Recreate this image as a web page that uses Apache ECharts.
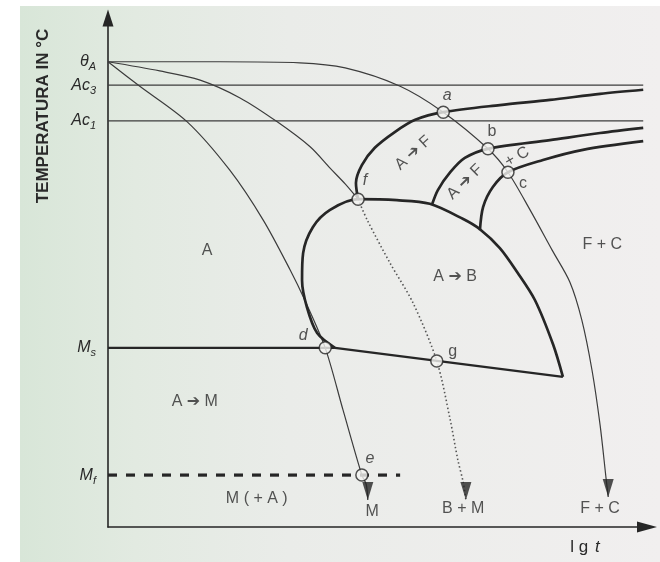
<!DOCTYPE html>
<html>
<head>
<meta charset="utf-8">
<script src="https://cdn.jsdelivr.net/npm/echarts@6/dist/echarts.min.js"></script>
<style>
  html, body { margin: 0; padding: 0; background: #ffffff; }
  #paper { position: absolute; left: 20px; top: 6px; width: 640px; height: 556px;
           background: linear-gradient(to right, #d8e6d8 0%, #e2eae1 18%, #eaece9 42%, #f1efef 100%); }
  #chart { position: absolute; left: 0; top: 0; width: 660px; height: 562px; }
</style>
</head>
<body>
<div id="paper"></div>
<div id="chart"></div>
<script>
// Continuous-cooling transformation diagram (schematic).
// x: lg t (arbitrary units 0..100), y: temperature (arbitrary units 0..100)

// Characteristic temperatures shown on the temperature axis
const levelSymbols = [['θ', 'A'], ['Ac', '3'], ['Ac', '1'], ['M', 's'], ['M', 'f']];
const levelValues  = [91.4, 86.8, 79.8, 35.2, 10.2];

// Horizontal reference lines: Ac3, Ac1 (to the right end), Ms, Mf
const acLineEnd = 99.3;
const msLineEnd = 42.1;
const mfLineEnd = 54.2;

// Cooling curves starting at θA
const coolSlow = [[0, 91.4], [20.8, 91.4], [35.6, 91.2], [44.0, 90.2], [54.2, 86.6], [62.2, 81.5],
                  [70.5, 74.3], [74.2, 69.7], [78.3, 62.3], [82.4, 54.4], [85.7, 48.1], [87.9, 40.7],
                  [89.8, 30.8], [91.3, 20.0], [92.4, 9.6], [92.8, 5.9]];
const coolMedium = [[0, 91.4], [9.6, 89.6], [17.1, 87.8], [24.5, 84.3], [31.4, 79.6], [37.5, 74.7],
                    [41.2, 70.5], [44.0, 67.4], [46.4, 64.4]];
const coolMediumBelow = [[46.4, 64.4], [48.1, 60.3], [52.3, 51.9], [56.6, 44.0], [61.0, 32.6],
                         [63.5, 21.0], [64.9, 13.2], [65.9, 8.8], [66.4, 5.3]];
const coolFast = [[0, 91.4], [5.9, 86.6], [14.7, 79.6], [22.6, 70.1], [28.8, 60.3], [33.8, 50.5],
                  [36.5, 44.6], [40.3, 35.2], [43.6, 23.0], [47.1, 10.2], [47.9, 8.4], [48.2, 5.3]];

// Transformation lines
const ferriteStart = [[99.3, 85.9], [91.3, 85.1], [82.0, 83.9], [72.7, 82.9], [62.2, 81.5], [57.0, 80.0],
                      [53.2, 77.6], [49.5, 74.5], [47.1, 71.1], [46.0, 67.6], [46.4, 64.4]];
const carbideStart = [[99.3, 78.4], [91.3, 77.4], [82.0, 76.0], [70.5, 74.3], [66.2, 72.5], [63.5, 69.7],
                      [61.2, 66.2], [60.1, 63.3]];
const transformEnd = [[99.3, 75.8], [88.1, 74.1], [80.7, 72.1], [74.2, 69.7], [71.4, 66.8], [69.6, 62.9],
                      [69.0, 58.3]];
const bainiteNose = [[42.1, 35.2], [38.8, 38.1], [36.9, 43.2], [36.0, 48.5], [36.2, 53.8], [38.0, 58.9],
                     [41.2, 62.3], [46.4, 64.4], [53.6, 64.2], [59.7, 63.5], [65.9, 60.5], [69.0, 58.5],
                     [72.7, 54.8], [75.9, 50.1], [79.2, 44.6], [82.6, 35.8], [84.4, 29.5]];
const bainiteEnd = [[42.1, 35.2], [84.4, 29.5]];

// Named intersection points
const pointNames  = ['a', 'b', 'c', 'f', 'd', 'g', 'e'];
const pointValues = [[62.2, 81.5], [70.5, 74.3], [74.2, 69.7], [46.4, 64.4], [40.3, 35.2], [61.0, 32.6], [47.1, 10.2]];

// Region / product annotations
const regionTexts  = ['A', 'A ➔ F', 'A ➔ F', '+ C', 'F + C', 'A ➔ B', 'A ➔ M', 'M ( + A )', 'M', 'B + M', 'F + C'];
const regionAnchor = [[18.4, 54.4], [56.6, 73.5], [66.2, 67.8], [75.9, 72.7], [91.7, 55.4], [64.4, 49.1],
                      [16.1, 24.6], [27.6, 5.5], [49.0, 3.1], [65.9, 3.7], [91.3, 3.7]];

// ---- styling ----
const FONT = '"Liberation Sans", Arial, "DejaVu Sans", sans-serif';
const INK = '#262626';
const THIN = '#3c3c3c';
const TEXT = '#2a2a2a';
const regionRotate = [0, 42, 44, 30, 0, 0, 0, 0, 0, 0, 0];
const pointItalic = { a: true, b: false, c: false, f: true, d: true, g: false, e: true };
const pointLabelOffset = { a: [4, -17], b: [4, -17], c: [15, 11], f: [7, -19], d: [-22, -12], g: [16, -9], e: [8, -17] };

function lineSeries(data, width, color, extra) {
  return Object.assign({
    type: 'line', data: data, symbol: 'none', silent: true, animation: false,
    lineStyle: { width: width, color: color }, z: 2
  }, extra || {});
}

const ms = levelValues[3], mf = levelValues[4];
const ac3 = levelValues[1], ac1 = levelValues[2];

const chart = echarts.init(document.getElementById('chart'), null, { renderer: 'canvas' });

const option = {
  backgroundColor: 'transparent',
  animation: false,
  grid: { left: 108, top: 18, width: 539, height: 509, containLabel: false },
  xAxis: {
    type: 'value', min: 0, max: 100,
    axisLine: { show: true, onZero: false, symbol: ['none', 'triangle'], symbolSize: [11, 20],
                lineStyle: { color: INK, width: 1.6 } },
    axisTick: { show: false }, axisLabel: { show: false }, splitLine: { show: false }
  },
  yAxis: {
    type: 'value', min: 0, max: 100,
    axisLine: { show: true, onZero: false, symbol: ['none', 'triangle'], symbolSize: [11, 17],
                lineStyle: { color: INK, width: 1.6 } },
    axisTick: { show: false }, splitLine: { show: false },
    axisLabel: {
      show: true, customValues: levelValues, margin: 12,
      formatter: function (v) {
        const i = levelValues.findIndex(function (x) { return Math.abs(x - v) < 1e-6; });
        if (i < 0) return '';
        return '{m|' + levelSymbols[i][0] + '}{s|' + levelSymbols[i][1] + '}';
      },
      rich: {
        m: { fontFamily: FONT, fontSize: 16, fontStyle: 'italic', color: TEXT, lineHeight: 22, verticalAlign: 'middle' },
        s: { fontFamily: FONT, fontSize: 11, fontStyle: 'italic', color: TEXT, lineHeight: 11, verticalAlign: 'bottom' }
      }
    }
  },
  graphic: [
    { type: 'text', x: 43, y: 116, rotation: Math.PI / 2,
      style: { text: 'TEMPERATURA IN °C', font: 'bold 17px "Liberation Sans", Arial, sans-serif',
               fill: TEXT, align: 'center', verticalAlign: 'middle' } },
    { type: 'text', x: 585, y: 547,
      style: { text: '{n|l g}  {i|t}', align: 'center', verticalAlign: 'middle',
               rich: { n: { fontFamily: FONT, fontSize: 17, fill: TEXT },
                       i: { fontFamily: FONT, fontSize: 17, fontStyle: 'italic', fill: TEXT } } } }
  ],
  series: [
    // reference temperatures
    lineSeries([[0, ac3], [acLineEnd, ac3]], 1.2, THIN),
    lineSeries([[0, ac1], [acLineEnd, ac1]], 1.2, THIN),
    lineSeries([[0, ms], [msLineEnd, ms]], 2.2, INK),
    lineSeries([[0, mf], [mfLineEnd, mf]], 3.2, INK, { lineStyle: { width: 3.2, color: INK, type: [9, 9] } }),
    // cooling curves
    lineSeries(coolSlow, 1.2, THIN, { smooth: 0.3 }),
    lineSeries(coolMedium, 1.2, THIN, { smooth: 0.3 }),
    lineSeries(coolMediumBelow, 1.6, '#555', { smooth: 0.3,
      lineStyle: { width: 1.6, color: '#555', type: [1.5, 2.5] } }),
    lineSeries(coolFast, 1.2, THIN, { smooth: 0.3 }),
    // transformation lines
    lineSeries(ferriteStart, 2.7, INK, { smooth: 0.3 }),
    lineSeries(carbideStart, 2.7, INK, { smooth: 0.3 }),
    lineSeries(transformEnd, 2.7, INK, { smooth: 0.3 }),
    lineSeries(bainiteNose, 2.7, INK, { smooth: 0.3 }),
    lineSeries(bainiteEnd, 2.4, INK),
    // arrow heads at the end of each cooling curve
    {
      type: 'scatter', silent: true, z: 4,
      data: [coolFast, coolMediumBelow, coolSlow].map(function (c) { return c[c.length - 1]; }),
      symbol: 'triangle', symbolRotate: 180, symbolSize: [11, 18], symbolOffset: [0, -9],
      itemStyle: { color: INK }
    },
    // intersection points
    {
      type: 'scatter', silent: true, z: 5,
      data: pointNames.map(function (n, i) {
        return { name: n, value: pointValues[i],
                 label: { offset: pointLabelOffset[n], fontStyle: pointItalic[n] ? 'italic' : 'normal' } };
      }),
      symbol: 'circle', symbolSize: 12,
      itemStyle: { color: '#f4f4f1', borderColor: INK, borderWidth: 1.5 },
      label: { show: true, position: 'inside', formatter: '{b}', fontFamily: FONT, fontSize: 16, color: TEXT }
    },
    // region annotations
    {
      type: 'scatter', silent: true, z: 6,
      data: regionTexts.map(function (t, i) {
        return { name: t, value: regionAnchor[i], label: { rotate: regionRotate[i] } };
      }),
      symbol: 'circle', symbolSize: 1, itemStyle: { color: 'rgba(0,0,0,0)' },
      label: { show: true, position: 'inside', formatter: '{b}', fontFamily: FONT, fontSize: 16, color: TEXT }
    }
  ]
};

chart.setOption(option);
</script>
</body>
</html>
